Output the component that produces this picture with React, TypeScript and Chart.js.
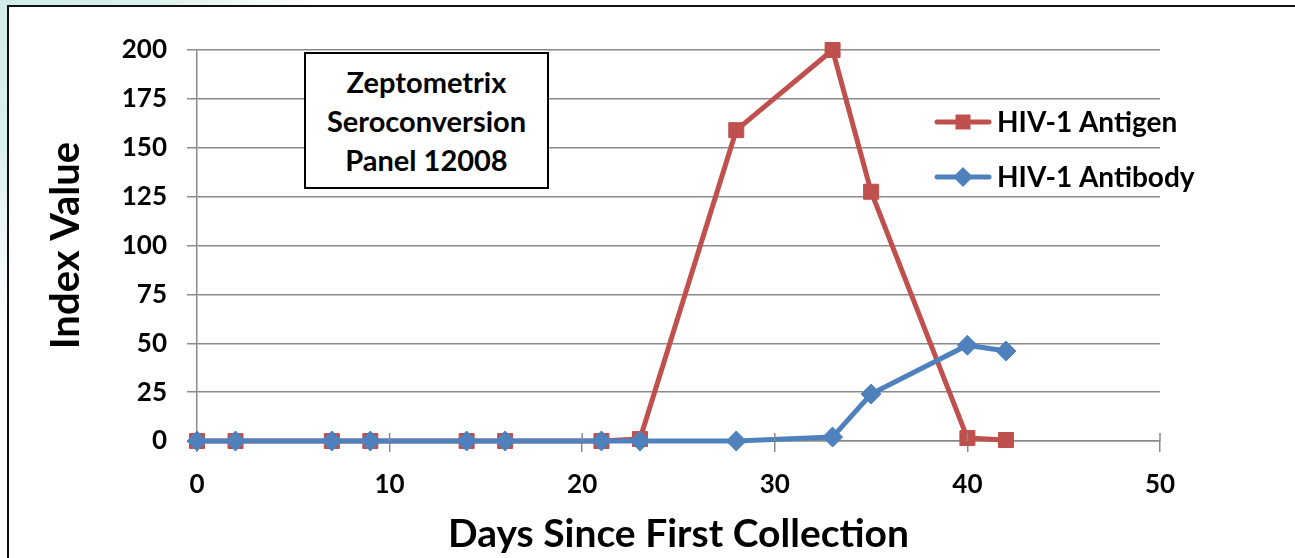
import React, { useEffect, useRef } from "react";
import { Chart, registerables } from "chart.js";

Chart.register(...registerables);

const days = [0, 2, 7, 9, 14, 16, 21, 23, 28, 33, 35, 40, 42];
const antigen = [0, 0, 0, 0, 0, 0, 0, 1, 159, 200, 127.5, 1.5, 0.5];
const antibody = [0, 0, 0, 0, 0, 0, 0, 0, 0, 2, 24, 49, 46];
const seriesLabels = ["HIV-1 Antigen", "HIV-1 Antibody"];
const seriesColors = ["#C0504D", "#4F81BD"];
const boxLines = ["Zeptometrix", "Seroconversion", "Panel 12008"];
const xTitle = "Days Since First Collection";
const yTitle = "Index Value";

const FONT = "Lato, 'Open Sans', sans-serif";
const GRID = "#8a8a8a";

const innerTicks = {
  id: "innerTicks",
  afterDraw(chart: any) {
    const { ctx, scales } = chart;
    const x = scales.x;
    const y0 = scales.y.getPixelForValue(0);
    ctx.save();
    ctx.strokeStyle = GRID;
    ctx.lineWidth = 1.5;
    x.ticks.forEach((t: any) => {
      if (t.value === 0) return;
      const px = x.getPixelForValue(t.value);
      ctx.beginPath();
      ctx.moveTo(px, y0 - 8);
      ctx.lineTo(px, y0);
      ctx.stroke();
    });
    ctx.restore();
  },
};

const customLegend = {
  id: "customLegend",
  afterDraw(chart: any) {
    const { ctx } = chart;
    const rows = [
      { y: 122, style: "rect" },
      { y: 177, style: "diamond" },
    ];
    ctx.save();
    rows.forEach((r, i) => {
      const color = seriesColors[i];
      ctx.strokeStyle = color;
      ctx.lineWidth = 5;
      ctx.lineCap = "round";
      ctx.beginPath();
      ctx.moveTo(937, r.y);
      ctx.lineTo(989, r.y);
      ctx.stroke();
      ctx.fillStyle = color;
      ctx.beginPath();
      if (r.style === "rect") {
        ctx.rect(963 - 7.5, r.y - 7.5, 15, 15);
      } else {
        ctx.moveTo(963, r.y - 10);
        ctx.lineTo(973, r.y);
        ctx.lineTo(963, r.y + 10);
        ctx.lineTo(953, r.y);
        ctx.closePath();
      }
      ctx.fill();
      ctx.fillStyle = "#000";
      ctx.font = `bold 28px ${FONT}`;
      ctx.textAlign = "left";
      ctx.textBaseline = "middle";
      ctx.fillText(seriesLabels[i], 997, r.y + 1);
    });
    ctx.restore();
  },
};

export default function App() {
  const ref = useRef<HTMLCanvasElement | null>(null);

  useEffect(() => {
    if (!ref.current) return;
    const chart = new Chart(ref.current, {
      type: "line",
      data: {
        datasets: [
          {
            label: seriesLabels[0],
            data: days.map((d, i) => ({ x: d, y: antigen[i] })),
            borderColor: seriesColors[0],
            backgroundColor: seriesColors[0],
            borderWidth: 5,
            pointStyle: "rect",
            pointRadius: 10.6,
            pointBorderWidth: 1,
            tension: 0,
            order: 1,
            clip: false,
          },
          {
            label: seriesLabels[1],
            data: days.map((d, i) => ({ x: d, y: antibody[i] })),
            borderColor: seriesColors[1],
            backgroundColor: seriesColors[1],
            borderWidth: 5,
            pointStyle: "rectRot",
            pointRadius: 10,
            pointBorderWidth: 1,
            tension: 0,
            order: 0,
            clip: false,
          },
        ],
      },
      options: {
        responsive: false,
        animation: false,
        devicePixelRatio: 1,
        layout: { padding: { left: 40, top: 50, right: 135, bottom: 0 } },
        plugins: { legend: { display: false }, tooltip: { enabled: false } },
        scales: {
          x: {
            type: "linear",
            min: 0,
            max: 50,
            ticks: {
              stepSize: 10,
              color: "#000",
              padding: 17,
              font: { family: FONT, size: 26, weight: "bold" },
            },
            grid: {
              drawOnChartArea: false,
              drawTicks: true,
              tickLength: 11,
              color: GRID,
              lineWidth: 1.5,
            },
            border: { display: true, color: GRID, width: 1.5 },
            title: {
              display: true,
              text: xTitle,
              color: "#000",
              font: { family: FONT, size: 39, weight: "bold" },
              padding: { top: 0, bottom: 0 },
            },
            afterFit: (s: any) => {
              s.height = 117;
            },
          },
          y: {
            type: "linear",
            min: 0,
            max: 200,
            ticks: {
              stepSize: 25,
              color: "#000",
              padding: 20,
              font: { family: FONT, size: 26, weight: "bold" },
            },
            grid: {
              drawOnChartArea: true,
              drawTicks: true,
              tickLength: 10,
              color: GRID,
              lineWidth: 1.5,
            },
            border: { display: true, color: GRID, width: 1.5 },
            title: {
              display: true,
              text: yTitle,
              color: "#000",
              font: { family: FONT, size: 40, weight: "bold" },
              padding: { top: 2, bottom: 0 },
            },
            afterFit: (s: any) => {
              s.width = 157;
            },
          },
        },
      },
      plugins: [innerTicks, customLegend],
    });
    return () => chart.destroy();
  }, []);

  return (
    <div
      style={{
        position: "fixed",
        left: 0,
        top: 0,
        width: 1295,
        height: 558,
        overflow: "hidden",
        background:
          "radial-gradient(ellipse 320px 330px at 0px 0px, #d2ece8 0%, #dcf0ed 45%, #ffffff 100%)",
      }}
    >
      <div
        style={{
          position: "absolute",
          left: 7,
          top: 5,
          width: 1400,
          height: 700,
          borderTop: "2.5px solid #111",
          borderLeft: "2.5px solid #111",
          background: "#fff",
        }}
      />
      <canvas
        ref={ref}
        width={1295}
        height={558}
        style={{ position: "absolute", left: 0, top: 0, width: 1295, height: 558 }}
      />
      <div
        style={{
          position: "absolute",
          left: 304,
          top: 52,
          width: 245,
          height: 137,
          boxSizing: "border-box",
          border: "2px solid #000",
          background: "#fff",
          display: "flex",
          flexDirection: "column",
          alignItems: "center",
          justifyContent: "center",
          fontFamily: FONT,
          fontWeight: "bold",
          fontSize: 29,
          lineHeight: "39px",
          color: "#000",
          textAlign: "center",
        }}
      >
        {boxLines.map((l) => (
          <div key={l}>{l}</div>
        ))}
      </div>
    </div>
  );
}
